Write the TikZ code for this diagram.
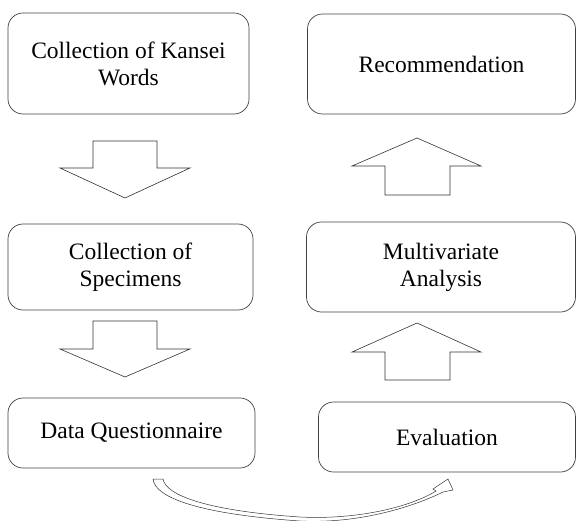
\documentclass[tikz,border=0pt]{standalone}
\usepackage{fontspec}
\setmainfont{Liberation Serif}

\begin{document}
\begin{tikzpicture}[x=1pt, y=1pt,
        box/.style={draw=black!75, line width=0.7pt, rounded corners=15pt, align=center, inner sep=0pt,
            font=\fontsize{23.5}{27}\selectfont},
        blockarrow/.style={draw=black!80, line width=0.6pt, fill=white, line join=miter}]
        \useasboundingbox (0,0) rectangle (577,520);
        % left column
        \node[box, minimum width=241, minimum height=101] (kansei) at (128.5,456.5) {Collection of Kansei\\Words};
        \node[box, minimum width=245, minimum height=86] (specimens) at (130.5,253) {Collection of\\Specimens};
        \node[box, minimum width=247, minimum height=70] (questionnaire) at (131.5,87) {Data Questionnaire};
        % right column
        \node[box, minimum width=268, minimum height=100] (recommend) at (441.5,456) {Recommendation};
        \node[box, minimum width=269, minimum height=90] (multivariate) at (441,253) {Multivariate\\Analysis};
        \node[box, minimum width=257, minimum height=70] (evaluation) at (447,83) {Evaluation};
        % block arrows
        \draw[blockarrow] (93,379) -- (157,379) -- (157,352) -- (190,352) -- (125,322) -- (60,352) -- (93,352) -- cycle;
        \draw[blockarrow] (93,199) -- (157,199) -- (157,171) -- (190,171) -- (125,143) -- (60,171) -- (93,171) -- cycle;
        \draw[blockarrow] (385,325) -- (450,325) -- (450,354) -- (481,354) -- (417,382) -- (352,354) -- (385,354) -- cycle;
        \draw[blockarrow] (385,140) -- (450,140) -- (450,168) -- (481,168) -- (417,197) -- (352,168) -- (385,168) -- cycle;
        % curved arrow
        \draw[blockarrow, line width=0.5pt] (153,41) .. controls (155,22) and (200,6) .. (300,-1)
            .. controls (360,-4) and (415,14) .. (443,28) -- (453,30) -- (448,41) -- (433,31) -- (436,29)
            .. controls (412,14) and (360,0) .. (300,3)
            .. controls (210,9) and (166,24) .. (163,41) -- cycle;
    \end{tikzpicture}
\end{document}
